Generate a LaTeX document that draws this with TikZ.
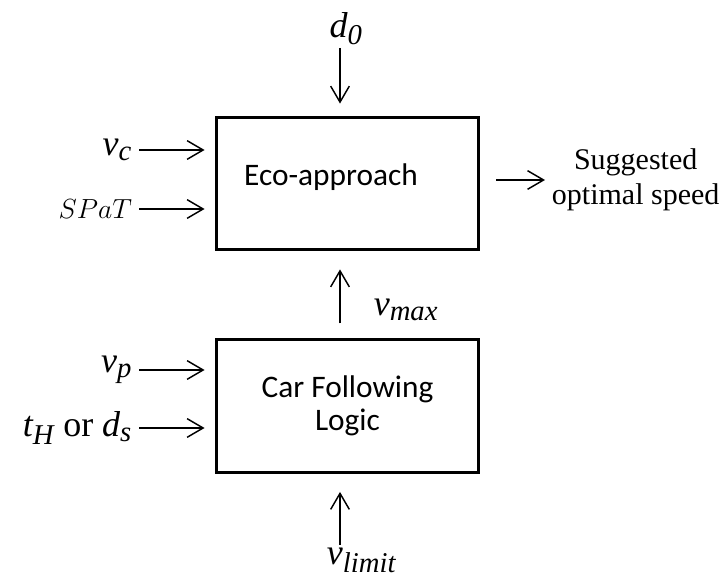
\documentclass[tikz,border=0pt]{standalone}
\usepackage{fontspec}
\setmainfont{Liberation Serif}
\newfontfamily\carlito{Carlito}
\usetikzlibrary{arrows.meta}
\DeclareMathSizes{27}{27}{21.5}{16}
\newcommand{\vsym}[2]{$\mathit{#1}_{\mathit{#2}}$}

\begin{document}
\begin{tikzpicture}[x=0.75pt, y=-0.75pt,
    blk/.style={draw, line width=2.4pt, minimum width=197pt, minimum height=99.5pt, inner sep=0pt, align=center, font=\carlito\fontsize{23.5}{25}\selectfont},
    arr/.style={-{Straight Barb[length=12pt,width=14pt]}, line width=1.1pt},
    sym/.style={inner sep=2pt, font=\fontsize{27}{30}\selectfont}
  ]
  \useasboundingbox (0,0) rectangle (722,584);
  \coordinate (col) at (340,0);

  % Eco-approach
  \node[blk] (eco) at (347.5,183.5) {};
  \node[font=\carlito\fontsize{23.5}{25}\selectfont] (ecotxt) at (331,177) {Eco-approach};

  % Car following
  \node[blk] (cfl) at (347.5,406) {Car Following\\Logic};

  % inputs
  \node[sym, anchor=south] (d0) at (346,48) {\vsym{d}{0}};
  \node[sym, anchor=east] (vc) at (135,150) {\vsym{v}{c}};
  \node[sym, anchor=east, font=\fontsize{22.5}{26}\selectfont] (spat) at (135,209) {$SPaT$};
  \node[sym, anchor=east] (vp) at (135,370) {\vsym{v}{p}};
  \node[sym, anchor=east] (th) at (135,428) {\vsym{t}{H} or \vsym{d}{s}};
  \node[sym, anchor=north west] (vlim) at (324,545) {\vsym{v}{limit}};
  \node[sym] (vmax) at (406,310) {\vsym{v}{max}};

  % output
  \node[sym, anchor=west, align=center, font=\fontsize{22.5}{26}\selectfont] (out) at (549,180) {Suggested\\optimal speed};

  \draw[arr, shorten >=9pt] (d0.south -| col) -- (eco.north -| col);
  \draw[arr, shorten <=3pt, shorten >=7.5pt] (vc.east) -- (vc.east -| eco.west);
  \draw[arr, shorten <=3pt, shorten >=7.5pt] (spat.east) -- (spat.east -| eco.west);
  \draw[arr, shorten <=3pt, shorten >=7.5pt] (vp.east) -- (vp.east -| cfl.west);
  \draw[arr, shorten <=3pt, shorten >=7.5pt] (th.east) -- (th.east -| cfl.west);
  \draw[arr, shorten <=11pt, shorten >=13.5pt] (cfl.north -| col) -- (eco.south -| col);
  \draw[arr, shorten >=13.5pt] (vlim.north -| col) -- (cfl.south -| col);
  \draw[arr, shorten <=12pt, shorten >=3pt] (out.west -| eco.east) -- (out.west);
\end{tikzpicture}
\end{document}
